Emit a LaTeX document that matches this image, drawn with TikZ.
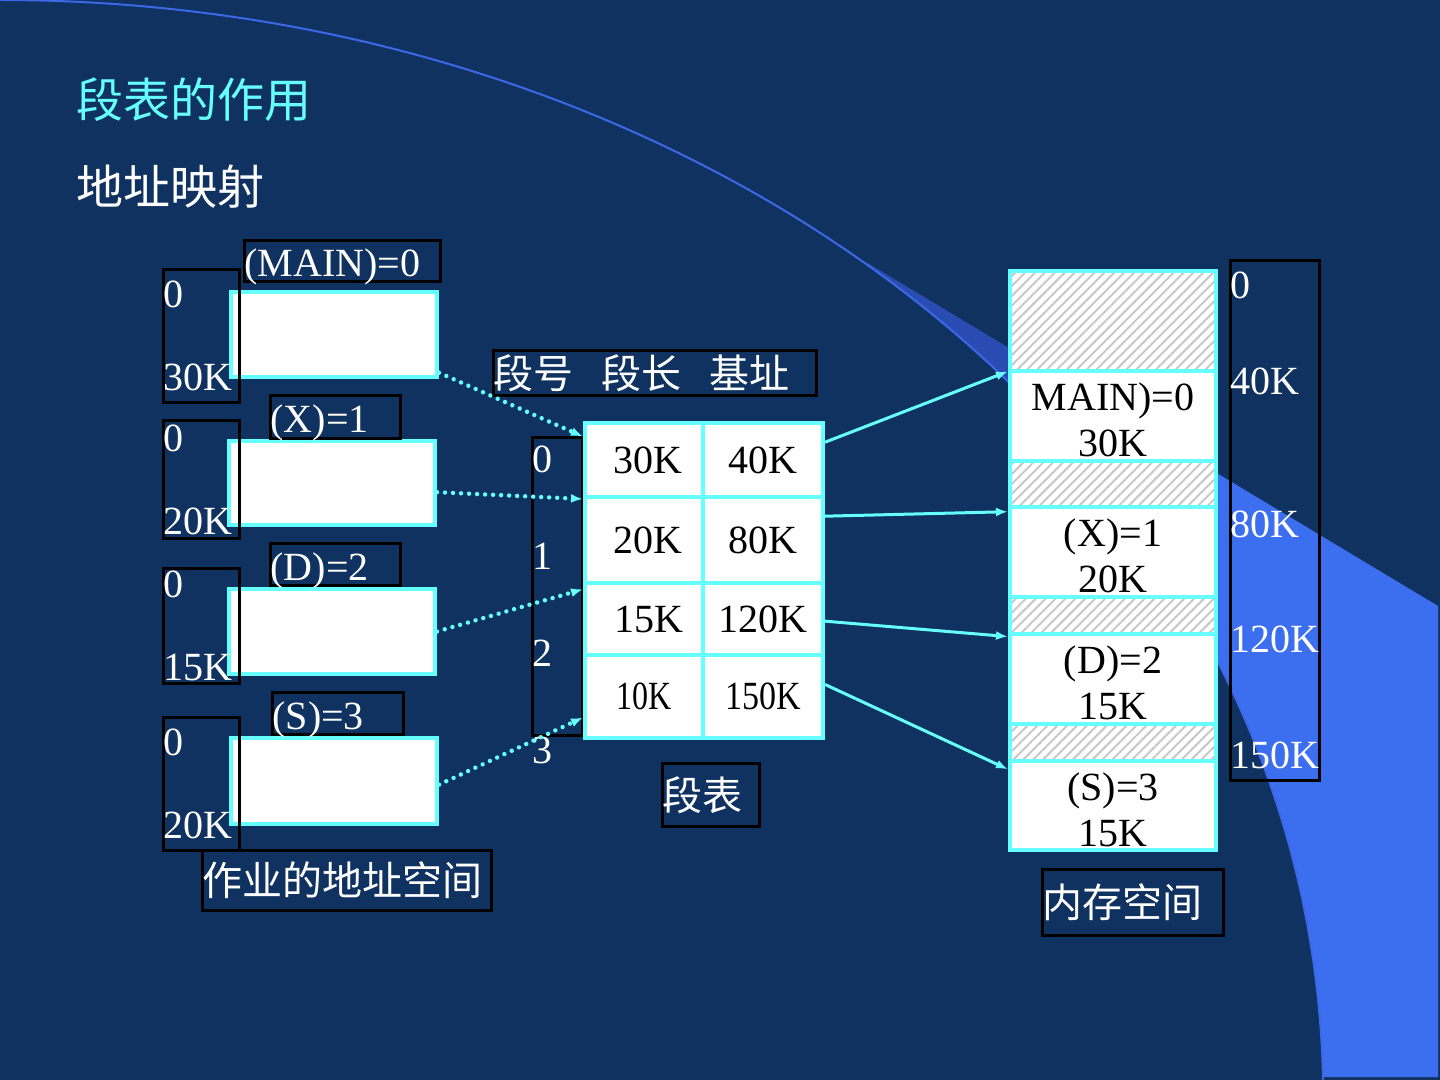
\documentclass[tikz,border=0pt]{standalone}
\usepackage{fontspec}
\setmainfont{Liberation Serif}
\newfontfamily\cjk{Noto Sans CJK SC}
\usepackage{tikz}
\usetikzlibrary{arrows.meta,patterns.meta}
\definecolor{slidebg}{RGB}{16,50,96}
\definecolor{linkcyan}{RGB}{102,255,255}
\definecolor{arcblue}{RGB}{60,104,232}
\definecolor{wedgeblue}{RGB}{60,110,240}
\definecolor{wedgedark}{RGB}{42,76,178}
\definecolor{hatch}{RGB}{200,200,200}
\tikzset{
    every node/.style={font=\fontsize{20pt}{24pt}\selectfont},
    zh/.style={font=\cjk\fontsize{20pt}{24pt}\selectfont},
    markbox/.style={draw=black, line width=1.5pt, text=white, align=left, inner xsep=0pt, inner ysep=0pt},
    tagbox/.style={markbox, text height=16pt, text depth=0pt},
    progbox/.style={draw=linkcyan, line width=2pt, fill=white, minimum width=103pt, inner sep=0pt},
    cell/.style={draw=linkcyan, line width=2pt, fill=white, text=black, inner sep=0pt},
    seg/.style={draw=linkcyan, line width=2pt, fill=white, text=black, align=center, minimum width=103pt, inner sep=0pt, font=\fontsize{20pt}{23pt}\selectfont},
    hole/.style={draw=linkcyan, line width=2pt, preaction={fill=white}, pattern={Lines[angle=45,distance=3.5pt,line width=1pt]}, pattern color=hatch, minimum width=103pt, inner sep=0pt},
    link/.style={draw=linkcyan, line width=1.5pt, -{Latex[length=6pt,width=4.5pt]}},
    dotlink/.style={draw=linkcyan, line width=2.2pt, line cap=round, dash pattern=on 0.01pt off 4pt, -{Latex[length=6pt,width=4.5pt]}},
}
\begin{document}
\begin{tikzpicture}[x=0.5pt,y=-0.5pt]
\useasboundingbox (0,0) rectangle (1440,1080);
\fill[slidebg] (0,0) rectangle (1440,1080);
% background arc and wedge
\begin{scope}
\clip (867,263) -- (1438,606) -- (1438,1077) -- (867,1077) -- cycle;
\fill[wedgeblue] (0,0) .. controls (700,0) and (1310,450) .. (1323,1080) -- (1440,1080) -- (1440,0) -- cycle;
\clip (0,0) rectangle (1009,1080);
\fill[wedgedark] (0,0) .. controls (700,0) and (1310,450) .. (1323,1080) -- (1440,1080) -- (1440,0) -- cycle;
\end{scope}
\draw[arcblue, line width=1pt] (0,0) .. controls (700,0) and (1310,450) .. (1323,1080);

\node[font=\cjk\fontsize{23.5pt}{28pt}\selectfont, text=linkcyan, anchor=west, inner sep=0pt] (title) at (76,100) {段表的作用};
\node[font=\cjk\fontsize{23.5pt}{28pt}\selectfont, text=white, anchor=west, inner sep=0pt] (subtitle) at (76,187) {地址映射};

% job address spaces
\node[progbox, minimum height=42.5pt] (w0) at (334,334.5) {};
\node[progbox, minimum height=42pt] (w1) at (332,483) {};
\node[progbox, minimum height=42.5pt] (w2) at (332,631.5) {};
\node[progbox, minimum height=43pt] (w3) at (334,781) {};
\node[markbox, text width=38pt, minimum height=66.5pt] (ja) at (201.5,336) {0\\[17.5pt]30K};
\node[markbox, text width=38pt, minimum height=59pt] (jb) at (201.5,479.5) {0\\[17.5pt]20K};
\node[markbox, text width=38pt, minimum height=57.5pt] (jc) at (201.5,626) {0\\[17.5pt]15K};
\node[markbox, text width=38pt, minimum height=66.5pt] (jd) at (201.5,784) {0\\[17.5pt]20K};
\node[tagbox, text width=98pt, minimum height=20.5pt] (tmain) at (342.5,261) {(MAIN)=0};
\node[tagbox, text width=65pt, minimum height=21.5pt] (tx) at (335.5,417) {(X)=1};
\node[tagbox, text width=65pt, minimum height=21pt] (td) at (335.5,564.5) {(D)=2};
\node[tagbox, text width=65.5pt, minimum height=21pt] (ts) at (338,713.5) {(S)=3};
\node[markbox, zh, text width=144.5pt, minimum height=30pt] (jobcap) at (347,880.5) {作业的地址空间};

% segment table
\node[draw=black, line width=1.5pt, minimum width=25pt, minimum height=149pt, inner sep=0pt] (idx) at (557.5,586.5) {};
\node[anchor=west, text=white, align=left, inner sep=0pt, font=\fontsize{20pt}{48.5pt}\selectfont] (idxnum) at (532,605) {0\\1\\2\\3};
\node[markbox, zh, text width=161.5pt, minimum height=22.5pt] (head) at (655,373) {段号\hspace{14pt}段长\hspace{14pt}基址};
\node[cell, minimum width=59pt, minimum height=37pt] (t00) at (644,460) {\hspace{4pt}30K};
\node[cell, minimum width=60pt, minimum height=37pt] (t01) at (763,460) {40K\hspace{8pt}};
\node[cell, minimum width=59pt, minimum height=43pt] (t10) at (644,540) {\hspace{4pt}20K};
\node[cell, minimum width=60pt, minimum height=43pt] (t11) at (763,540) {80K\hspace{8pt}};
\node[cell, minimum width=59pt, minimum height=36pt] (t20) at (644,619) {\hspace{5pt}15K};
\node[cell, minimum width=60pt, minimum height=36pt] (t21) at (763,619) {120K};
\node[cell, minimum width=59pt, minimum height=41.5pt] (t30) at (644,696.5) {\scalebox{0.8}[1]{10K}\hspace{8pt}};
\node[cell, minimum width=60pt, minimum height=41.5pt] (t31) at (763,696.5) {\scalebox{0.85}[1]{150K}};
\node[markbox, zh, text width=48.5pt, minimum height=31.5pt] (tabcap) at (711,795) {段表};

% main memory
\node[hole, minimum height=50pt] (h0) at (1113,321) {};
\node[seg, minimum height=45pt] (m0) at (1113,416) {\rule{0pt}{18pt}MAIN)=0\\30K};
\node[hole, minimum height=23pt] (h1) at (1113,484) {};
\node[seg, minimum height=45pt] (m1) at (1113,552) {\rule{0pt}{18pt}(X)=1\\20K};
\node[hole, minimum height=18.5pt] (h2) at (1113,615.5) {};
\node[seg, minimum height=45pt] (m2) at (1113,679) {\rule{0pt}{18pt}(D)=2\\15K};
\node[hole, minimum height=18.5pt] (h3) at (1113,742.5) {};
\node[seg, minimum height=44.5pt] (m3) at (1113,805.5) {\rule{0pt}{18pt}(S)=3\\15K};
\node[markbox, text width=44.5pt, minimum height=260pt] (addr) at (1275,520.5) {0\\[24pt]40K\\[47.5pt]80K\\[33.5pt]120K\\[34pt]150K};
\node[markbox, zh, text width=90.5pt, minimum height=33pt] (memcap) at (1133,902.5) {内存空间};

% connectors
\draw[dotlink] (w0.-20) -- (t00.159);
\draw[dotlink] (w1.-5) -- (t00.south west);
\draw[dotlink] (w2.east) -- (t20.154);
\draw[dotlink] (w3.-2) -- (t30.199);
\draw[link] (t01.16) -- (m0.157);
\draw[link] (t11.21) -- (m1.159);
\draw[link] (t21.-2) -- (m2.158);
\draw[link] (t31.11) -- (m3.161);
\end{tikzpicture}
\end{document}
